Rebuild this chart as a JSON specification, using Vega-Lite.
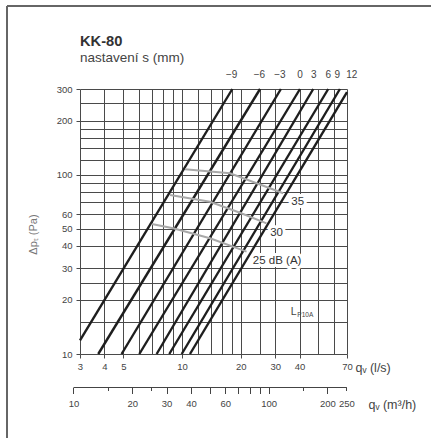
{
  "$schema": "https://vega.github.io/schema/vega-lite/v6.json",
  "autosize": {"type": "none"},
  "width": 267,
  "height": 265,
  "padding": {"left": 80, "top": 89, "right": 84, "bottom": 84},
  "background": "white",
  "title": {
    "text": "KK-80",
    "subtitle": "nastavení s (mm)",
    "anchor": "start",
    "frame": "group",
    "font": "Liberation Sans",
    "subtitleFont": "Liberation Sans",
    "fontSize": 14.7,
    "fontWeight": "bold",
    "color": "#333333",
    "subtitleFontSize": 13.5,
    "subtitleColor": "#444444",
    "subtitlePadding": 3,
    "offset": -60
  },
  "datasets": {
    "settings": [
      {"s": "-9", "q": 3, "p": 11.9},
      {"s": "-9", "q": 18.1, "p": 300},
      {"s": "-6", "q": 3.72, "p": 10},
      {"s": "-6", "q": 25.1, "p": 300},
      {"s": "-3", "q": 4.9, "p": 10},
      {"s": "-3", "q": 32.1, "p": 300},
      {"s": "0", "q": 6.04, "p": 10},
      {"s": "0", "q": 40.2, "p": 300},
      {"s": "3", "q": 7.41, "p": 10},
      {"s": "3", "q": 47, "p": 300},
      {"s": "6", "q": 8.6, "p": 10},
      {"s": "6", "q": 56.1, "p": 300},
      {"s": "9", "q": 9.96, "p": 10},
      {"s": "9", "q": 64.4, "p": 300},
      {"s": "12", "q": 10.98, "p": 10},
      {"s": "12", "q": 70, "p": 288}
    ],
    "noise": [
      {"db": "35", "q": 10.35, "p": 107},
      {"db": "35", "q": 17.6, "p": 101.7},
      {"db": "35", "q": 33, "p": 78.7},
      {"db": "30", "q": 8.68, "p": 76.9},
      {"db": "30", "q": 13.9, "p": 70.6},
      {"db": "30", "q": 19.8, "p": 61.3},
      {"db": "30", "q": 27.1, "p": 53.5},
      {"db": "25", "q": 7.0, "p": 53.0},
      {"db": "25", "q": 9.0, "p": 50.2},
      {"db": "25", "q": 13.9, "p": 44.2},
      {"db": "25", "q": 21.4, "p": 37.2}
    ],
    "toplabels": [
      {"label": "−9", "q": 17.96},
      {"label": "−6", "q": 24.9},
      {"label": "−3", "q": 31.7},
      {"label": "0", "q": 40.2},
      {"label": "3", "q": 47.3},
      {"label": "6", "q": 56.1},
      {"label": "9", "q": 62.4},
      {"label": "12", "q": 74}
    ],
    "noiselabels": [
      {"label": "35", "q": 39.1, "p": 70.4},
      {"label": "30", "q": 30.5, "p": 47.4},
      {"label": "25 dB (A)", "q": 30.7, "p": 33.0}
    ]
  },
  "layer": [
    {
      "layer": [
        {
          "data": {"name": "settings"},
          "mark": {"type": "line", "color": "#1e1e1e", "strokeWidth": 2.4},
          "encoding": {
            "x": {
              "field": "q",
              "type": "quantitative",
              "scale": {"type": "log", "domain": [3, 70], "nice": false},
              "axis": {
                "orient": "bottom",
                "values": [3, 4, 5, 6, 7, 8, 9, 10, 12, 14, 16, 18, 20, 25, 30, 40, 50, 60, 70],
                "labelExpr": "indexof([3,4,5,10,20,30,40,70], datum.value) >= 0 ? datum.label : ''",
                "grid": true,
                "gridColor": "#4a4a4a",
                "gridWidth": 1,
                "gridOpacity": 1,
                "domain": false,
                "tickColor": "#4a4a4a",
                "tickSize": {"condition": {"test": "indexof([3,4,5,10,20,30,40,70], datum.value) >= 0", "value": 4}, "value": 0},
                "labelPadding": 3,
                "labelFlush": false,
                "labelOverlap": false,
                "labelFontSize": 9.5,
                "labelColor": "#444444",
                "labelFont": "Liberation Sans",
                "title": "qᵥ (l/s)",
                "titleFont": "Liberation Sans",
                "titleFontSize": 12.5,
                "titleFontWeight": "normal",
                "titleColor": "#444444",
                "titleAlign": "left",
                "titleBaseline": "middle",
                "titleX": 275,
                "titleY": 13
              }
            },
            "y": {
              "field": "p",
              "type": "quantitative",
              "scale": {"type": "log", "domain": [10, 300], "nice": false},
              "axis": {
                "values": [10, 15, 20, 25, 30, 40, 50, 60, 70, 80, 90, 100, 120, 140, 160, 180, 200, 250, 300],
                "labelExpr": "indexof([10,20,30,40,50,60,100,200,300], datum.value) >= 0 ? datum.label : ''",
                "grid": true,
                "gridColor": "#4a4a4a",
                "gridWidth": 1,
                "gridOpacity": 1,
                "domain": false,
                "tickColor": "#4a4a4a",
                "tickSize": {"condition": {"test": "indexof([10,20,30,40,50,60,100,200,300], datum.value) >= 0", "value": 4}, "value": 0},
                "labelPadding": 4,
                "labelOverlap": false,
                "labelFlush": false,
                "labelFontSize": 9.5,
                "labelColor": "#444444",
                "labelFont": "Liberation Sans",
                "title": "Δpₜ (Pa)",
                "titleFont": "Liberation Sans",
                "titleFontSize": 11,
                "titleFontWeight": "normal",
                "titleColor": "#777777",
                "titleAngle": 270,
                "titleAlign": "center",
                "titleBaseline": "middle",
                "titleX": -47,
                "titleY": 145
              }
            },
            "detail": {"field": "s"}
          }
        },
        {
          "data": {"values": [{}]},
          "mark": {"type": "rule", "color": "#666666", "strokeWidth": 2},
          "encoding": {
            "x": {"datum": 1.268, "type": "quantitative"},
            "y": {"datum": 871, "type": "quantitative"},
            "y2": {"datum": 3}
          }
        },
        {
          "data": {"values": [{}]},
          "mark": {"type": "rule", "color": "#666666", "strokeWidth": 2},
          "encoding": {
            "x": {"datum": 1.268, "type": "quantitative"},
            "x2": {"datum": 250},
            "y": {"datum": 871, "type": "quantitative"}
          }
        },
        {
          "data": {"name": "noiselabels"},
          "mark": {"type": "text", "fontSize": 11.5, "font": "Liberation Sans", "stroke": "white", "strokeWidth": 6, "fill": "white", "strokeJoin": "round", "align": "center", "baseline": "middle"},
          "encoding": {
            "x": {"field": "q", "type": "quantitative"},
            "y": {"field": "p", "type": "quantitative"},
            "text": {"field": "label"}
          }
        },
        {
          "data": {"name": "noise"},
          "mark": {"type": "line", "color": "#a8a8a8", "strokeWidth": 2},
          "encoding": {
            "x": {"field": "q", "type": "quantitative"},
            "y": {"field": "p", "type": "quantitative"},
            "detail": {"field": "db"}
          }
        },
        {
          "data": {"name": "noiselabels"},
          "mark": {"type": "text", "fontSize": 11.5, "font": "Liberation Sans", "color": "#333333", "align": "center", "baseline": "middle"},
          "encoding": {
            "x": {"field": "q", "type": "quantitative"},
            "y": {"field": "p", "type": "quantitative"},
            "text": {"field": "label"}
          }
        },
        {
          "data": {"name": "toplabels"},
          "mark": {"type": "text", "fontSize": 10, "font": "Liberation Sans", "color": "#444444", "align": "center", "baseline": "middle", "dy": -14},
          "encoding": {
            "x": {"field": "q", "type": "quantitative"},
            "y": {"datum": 300, "type": "quantitative"},
            "text": {"field": "label"}
          }
        },
        {
          "data": {"values": [{"t": "L", "q": 36.1, "p": 17.2}]},
          "mark": {"type": "text", "fontSize": 10.5, "font": "Liberation Sans", "color": "#444444", "align": "left", "baseline": "middle"},
          "encoding": {
            "x": {"field": "q", "type": "quantitative"},
            "y": {"field": "p", "type": "quantitative"},
            "text": {"field": "t"}
          }
        },
        {
          "data": {"values": [{"t": "P10A", "q": 36.1, "p": 17.2}]},
          "mark": {"type": "text", "fontSize": 6.5, "font": "Liberation Sans", "color": "#444444", "align": "left", "baseline": "middle", "dx": 6.5, "dy": 3},
          "encoding": {
            "x": {"field": "q", "type": "quantitative"},
            "y": {"field": "p", "type": "quantitative"},
            "text": {"field": "t"}
          }
        }
      ]
    },
    {
      "data": {"values": [{"m3h": 10}, {"m3h": 250}]},
      "mark": {"type": "point", "opacity": 0},
      "encoding": {
        "x": {
          "field": "m3h",
          "type": "quantitative",
          "scale": {"type": "log", "domain": [10, 250], "range": [-6.52, 266.33], "nice": false},
          "axis": {
            "orient": "bottom",
            "offset": 33,
            "values": [10, 15, 20, 25, 30, 40, 50, 60, 70, 80, 90, 100, 150, 200, 250],
            "labelExpr": "indexof([10,20,30,40,60,100,200,250], datum.value) >= 0 ? datum.label : ''",
            "grid": false,
            "domain": true,
            "domainColor": "#444444",
            "domainWidth": 1,
            "tickColor": "#444444",
            "tickWidth": 1,
            "tickSize": {"condition": {"test": "indexof([15,25,150,250], datum.value) >= 0", "value": 3.5}, "value": 6.5},
            "labelPadding": {"condition": {"test": "indexof([15,25,150,250], datum.value) >= 0", "value": 8}, "value": 5},
            "labelFlush": false,
            "labelOverlap": false,
            "labelFontSize": 9.5,
            "labelColor": "#444444",
            "labelFont": "Liberation Sans",
            "title": "qᵥ (m³/h)",
            "titleFont": "Liberation Sans",
            "titleFontSize": 12.5,
            "titleFontWeight": "normal",
            "titleColor": "#444444",
            "titleAlign": "left",
            "titleBaseline": "middle",
            "titleX": 288,
            "titleY": 17
          }
        }
      }
    }
  ],
  "resolve": {"scale": {"x": "independent"}, "axis": {"x": "independent"}},
  "config": {
    "view": {"stroke": null},
    "font": "Liberation Sans"
  }
}
